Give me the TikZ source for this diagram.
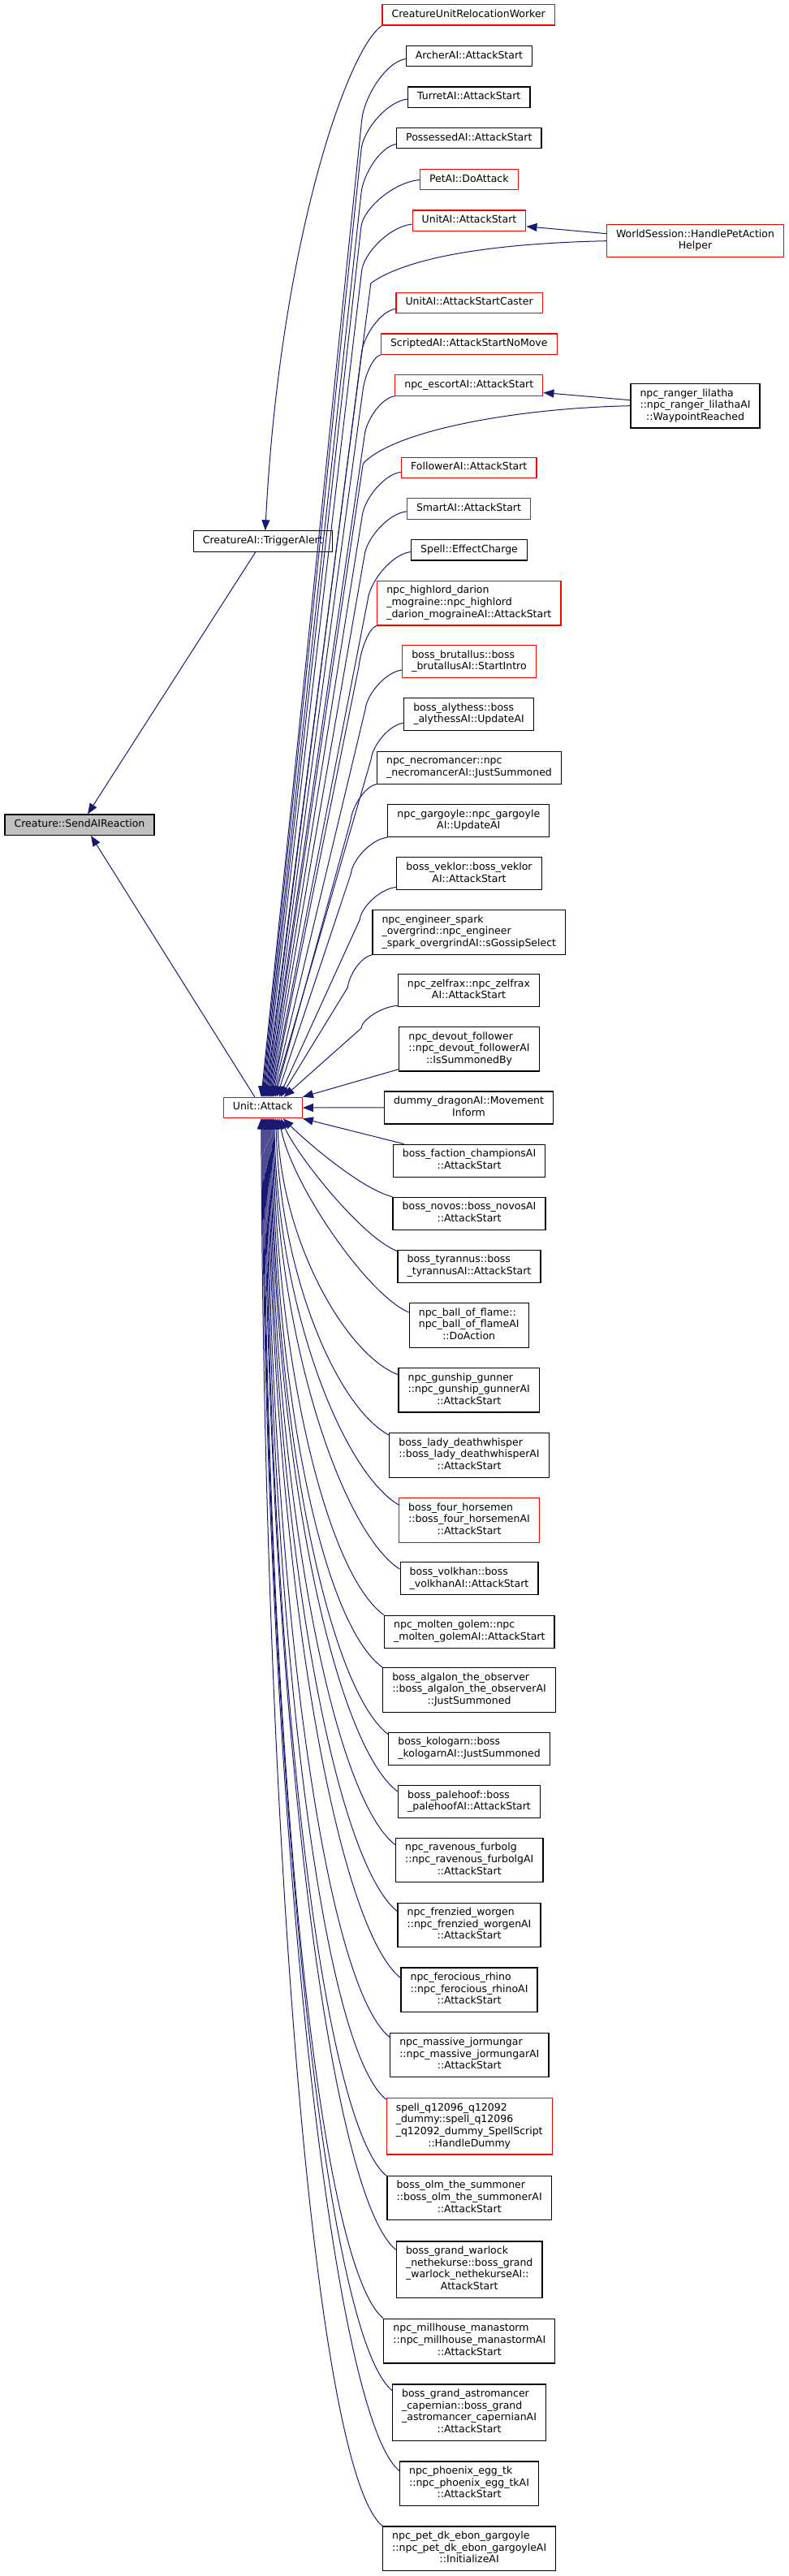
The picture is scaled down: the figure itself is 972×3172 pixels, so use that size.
\documentclass[tikz,border=0pt]{standalone}
\usepackage{fontspec}
\setmainfont{DejaVu Sans}
\usetikzlibrary{calc,arrows.meta}
\definecolor{mblue}{HTML}{191970}
\definecolor{gfill}{HTML}{BFBFBF}
\newcommand\nlab[1]{\begin{tabular}{@{}l@{}}#1\end{tabular}}
\newcommand\lastln[1]{\multicolumn{1}{@{}c@{}}{#1}}
\tikzset{
  box/.style={draw=black, fill=white, line width=0.6pt, inner xsep=5.8pt, inner ysep=2.7pt,
    font=\fontsize{6.25}{7.3}\selectfont, anchor=center},
  rbox/.style={box, draw=red},
  gbox/.style={box, fill=gfill},
  cedge/.style={draw=mblue, line width=0.5pt, -{Triangle[length=6.5pt,width=5pt]}}
}
\newcommand\eU[5]{%
  \coordinate (p) at ($(#1.south west)+(0,-#2)$);
  \draw[cedge] (p) .. controls ($(p)+({0.45*(#3)},{0.05*(#4)})$) and ($(p)+({#3+0.04*(#4)},{0.62*(#4)})$) .. ($(p)+(#3,#4)$) -- ($(ua.north)+(#5,0)$);}
\newcommand\eL[7]{%
  \coordinate (p) at ($(#1.north west)+(0,#2)$);
  \coordinate (t) at ($(ua.south)+(#7,0)$);
  \draw[cedge] (p) .. controls ($(p)+(#3,#4)$) and ($(t)+(#5,#6)$) .. (t);}
\begin{document}
\begin{tikzpicture}[x=0.5pt,y=-0.5pt]
\useasboundingbox (0,0) rectangle (972,3172);
% left part
\node[gbox] (sar) at (98,1015.7) {\nlab{Creature::SendAIReaction}};
\node[box] (ta) at (323.8,666.5) {\nlab{CreatureAI::TriggerAlert}};
\node[rbox] (ua) at (323.8,1364) {\nlab{Unit::Attack}};
% right column
\node[rbox] (curw) at (577.2,18.4) {\nlab{CreatureUnitRelocationWorker}};
\node[box] (archer) at (578,69.2) {\nlab{ArcherAI::AttackStart}};
\node[box] (turret) at (577.8,119.7) {\nlab{TurretAI::AttackStart}};
\node[box] (poss) at (577.8,170.2) {\nlab{PossessedAI::AttackStart}};
\node[rbox] (petai) at (577.8,221.2) {\nlab{PetAI::DoAttack}};
\node[rbox] (uaas) at (578,271.8) {\nlab{UnitAI::AttackStart}};
\node[rbox] (ws) at (856.5,296.7) {\nlab{WorldSession::HandlePetAction\\\lastln{Helper}}};
\node[rbox] (caster) at (578.1,373) {\nlab{UnitAI::AttackStartCaster}};
\node[rbox] (scripted) at (577.8,423.7) {\nlab{ScriptedAI::AttackStartNoMove}};
\node[rbox] (escort) at (577.8,474.5) {\nlab{npc\_escortAI::AttackStart}};
\node[box] (ranger) at (856.5,499.7) {\nlab{npc\_ranger\_lilatha\\::npc\_ranger\_lilathaAI\\\lastln{::WaypointReached}}};
\node[rbox] (follower) at (577.8,576) {\nlab{FollowerAI::AttackStart}};
\node[rbox] (smart) at (577.5,626.5) {\nlab{SmartAI::AttackStart}};
\node[box] (spell) at (578,677.2) {\nlab{Spell::EffectCharge}};
\node[rbox] (highlord) at (577.8,742.6) {\nlab{npc\_highlord\_darion\\\_mograine::npc\_highlord\\\lastln{\_darion\_mograineAI::AttackStart}}};
\node[rbox] (brutallus) at (578,814.5) {\nlab{boss\_brutallus::boss\\\lastln{\_brutallusAI::StartIntro}}};
\node[box] (alythess) at (577.5,879.7) {\nlab{boss\_alythess::boss\\\lastln{\_alythessAI::UpdateAI}}};
\node[box] (necro) at (578,945.1) {\nlab{npc\_necromancer::npc\\\lastln{\_necromancerAI::JustSummoned}}};
\node[box] (garg) at (577.3,1010.5) {\nlab{npc\_gargoyle::npc\_gargoyle\\\lastln{AI::UpdateAI}}};
\node[box] (veklor) at (578,1075.8) {\nlab{boss\_veklor::boss\_veklor\\\lastln{AI::AttackStart}}};
\node[box] (engineer) at (577.8,1148) {\nlab{npc\_engineer\_spark\\\_overgrind::npc\_engineer\\\lastln{\_spark\_overgrindAI::sGossipSelect}}};
\node[box] (zelfrax) at (577.5,1219.7) {\nlab{npc\_zelfrax::npc\_zelfrax\\\lastln{AI::AttackStart}}};
\node[box] (devout) at (578,1291.7) {\nlab{npc\_devout\_follower\\::npc\_devout\_followerAI\\\lastln{::IsSummonedBy}}};
\node[box] (dummy) at (577.5,1363.9) {\nlab{dummy\_dragonAI::Movement\\\lastln{Inform}}};
\node[box] (faction) at (578,1429.2) {\nlab{boss\_faction\_championsAI\\\lastln{::AttackStart}}};
\node[box] (novos) at (578,1494.3) {\nlab{boss\_novos::boss\_novosAI\\\lastln{::AttackStart}}};
\node[box] (tyrannus) at (578,1559.3) {\nlab{boss\_tyrannus::boss\\\lastln{\_tyrannusAI::AttackStart}}};
\node[box] (ball) at (577.7,1631.8) {\nlab{npc\_ball\_of\_flame::\\npc\_ball\_of\_flameAI\\\lastln{::DoAction}}};
\node[box] (gunship) at (577.7,1711.7) {\nlab{npc\_gunship\_gunner\\::npc\_gunship\_gunnerAI\\\lastln{::AttackStart}}};
\node[box] (lady) at (578,1792) {\nlab{boss\_lady\_deathwhisper\\::boss\_lady\_deathwhisperAI\\\lastln{::AttackStart}}};
\node[rbox] (four) at (578,1871.8) {\nlab{boss\_four\_horsemen\\::boss\_four\_horsemenAI\\\lastln{::AttackStart}}};
\node[box] (volkhan) at (578,1943.8) {\nlab{boss\_volkhan::boss\\\lastln{\_volkhanAI::AttackStart}}};
\node[box] (molten) at (578.3,2009.2) {\nlab{npc\_molten\_golem::npc\\\lastln{\_molten\_golemAI::AttackStart}}};
\node[box] (algalon) at (578,2081) {\nlab{boss\_algalon\_the\_observer\\::boss\_algalon\_the\_observerAI\\\lastln{::JustSummoned}}};
\node[box] (kologarn) at (578,2153.2) {\nlab{boss\_kologarn::boss\\\lastln{\_kologarnAI::JustSummoned}}};
\node[box] (palehoof) at (578,2218.7) {\nlab{boss\_palehoof::boss\\\lastln{\_palehoofAI::AttackStart}}};
\node[box] (ravenous) at (578.2,2290.5) {\nlab{npc\_ravenous\_furbolg\\::npc\_ravenous\_furbolgAI\\\lastln{::AttackStart}}};
\node[box] (frenzied) at (578,2370.4) {\nlab{npc\_frenzied\_worgen\\::npc\_frenzied\_worgenAI\\\lastln{::AttackStart}}};
\node[box] (ferocious) at (578,2450.3) {\nlab{npc\_ferocious\_rhino\\::npc\_ferocious\_rhinoAI\\\lastln{::AttackStart}}};
\node[box] (massive) at (578.3,2530.4) {\nlab{npc\_massive\_jormungar\\::npc\_massive\_jormungarAI\\\lastln{::AttackStart}}};
\node[rbox] (spellq) at (578.2,2618.3) {\nlab{spell\_q12096\_q12092\\\_dummy::spell\_q12096\\\_q12092\_dummy\_SpellScript\\\lastln{::HandleDummy}}};
\node[box] (olm) at (578.2,2706.5) {\nlab{boss\_olm\_the\_summoner\\::boss\_olm\_the\_summonerAI\\\lastln{::AttackStart}}};
\node[box] (warlock) at (578.2,2794.5) {\nlab{boss\_grand\_warlock\\\_nethekurse::boss\_grand\\\_warlock\_nethekurseAI::\\\lastln{AttackStart}}};
\node[box] (millhouse) at (578.3,2882.6) {\nlab{npc\_millhouse\_manastorm\\::npc\_millhouse\_manastormAI\\\lastln{::AttackStart}}};
\node[box] (astro) at (578,2970.6) {\nlab{boss\_grand\_astromancer\\\_capernian::boss\_grand\\\_astromancer\_capernianAI\\\lastln{::AttackStart}}};
\node[box] (phoenix) at (578,3058.3) {\nlab{npc\_phoenix\_egg\_tk\\::npc\_phoenix\_egg\_tkAI\\\lastln{::AttackStart}}};
\node[box] (petdk) at (578.2,3138.2) {\nlab{npc\_pet\_dk\_ebon\_gargoyle\\::npc\_pet\_dk\_ebon\_gargoyleAI\\\lastln{::InitializeAI}}};
% edges to the left part
\draw[cedge] (curw.south west) .. controls ($(curw.south west)+(-42,28)$) and ($(ta.north)+(21,-354)$) .. ($(ta.north)+(3,0)$);
\draw[cedge] ($(ta.south)+(-9,0)$) -- ($(sar.north)+(10,0)$);
\draw[cedge] ($(ua.north)+(-10,0)$) -- ($(sar.south)+(14,0)$);
% second-level callers
\draw[cedge] ($(ws.west)+(0,-9)$) -- ($(uaas.east)+(0,7)$);
\draw[cedge] ($(ranger.west)+(0,-7)$) -- ($(escort.east)+(0,9)$);
% callers above Unit::Attack
\eU{archer}{10}{-54}{75}{-2}
\eU{turret}{11}{-57}{62}{-1}
\eU{poss}{6}{-43}{60}{0}
\eU{petai}{13}{-72}{58}{1}
\eU{uaas}{9}{-62}{58}{2}
\draw[cedge] (ws.west) .. controls ($(ws.west)+(-140,3)$) and ($(ws.west)+(-245,20)$) .. ($(ws.west)+(-290,52)$) -- ($(ua.north)+(3,0)$);
\eU{caster}{6}{-42}{55}{4}
\eU{scripted}{0}{-22}{45}{5}
\eU{escort}{0}{-37}{48}{6}
\draw[cedge] (ranger.west) .. controls ($(ranger.west)+(-140,3)$) and ($(ranger.west)+(-290,30)$) .. ($(ranger.west)+(-329,71)$) -- ($(ua.north)+(7,0)$);
\eU{follower}{8}{-48}{55}{8}
\eU{smart}{10}{-52}{55}{9}
\eU{spell}{11}{-53}{60}{10}
\eU{highlord}{0}{-22}{50}{11}
\eU{brutallus}{10}{-45}{48}{12}
\eU{alythess}{10}{-40}{45}{13}
\eU{necro}{0}{-32}{45}{15}
\eU{garg}{0}{-45}{45}{17}
\eU{veklor}{4}{-45}{40}{20}
\eU{engineer}{0}{-30}{40}{22}
\eU{zelfrax}{2}{-45}{28}{26}
\draw[cedge] ($(devout.south west)+(0,-3)$) -- (ua.north east);
\draw[cedge] (dummy.west) -- (ua.east);
\draw[cedge] ($(faction.north west)+(14,0)$) -- (ua.south east);
% callers below Unit::Attack
\eL{novos}{0}{-40}{-10}{25}{25}{25}
\eL{tyrannus}{2}{-45}{-18}{20}{45}{22}
\eL{ball}{12}{-52}{-22}{15}{80}{20}
\eL{gunship}{9}{-65}{-25}{5}{150}{18}
\eL{lady}{3}{-65}{-35}{5}{190}{16}
\eL{four}{9}{-68}{-40}{4}{235}{14}
\eL{volkhan}{9}{-70}{-45}{4}{275}{13}
\eL{molten}{0}{-70}{-50}{4}{300}{12}
\eL{algalon}{0}{-75}{-55}{4}{335}{11}
\eL{kologarn}{3}{-75}{-58}{3}{375}{10}
\eL{palehoof}{8}{-80}{-60}{3}{410}{9}
\eL{ravenous}{9}{-80}{-62}{3}{445}{8}
\eL{frenzied}{11}{-80}{-64}{3}{490}{7}
\eL{ferocious}{13}{-82}{-65}{3}{530}{6}
\eL{massive}{6}{-82}{-66}{3}{565}{5}
\eL{spellq}{2}{-82}{-67}{3}{600}{4}
\eL{olm}{1}{-83}{-68}{3}{650}{3}
\eL{warlock}{11}{-84}{-68}{3}{700}{2}
\eL{millhouse}{0}{-84}{-69}{3}{740}{1}
\eL{astro}{8}{-85}{-70}{3}{780}{0}
\eL{phoenix}{12}{-85}{-70}{3}{830}{-1}
\eL{petdk}{0}{-85}{-70}{3}{870}{-2}
\end{tikzpicture}
\end{document}
